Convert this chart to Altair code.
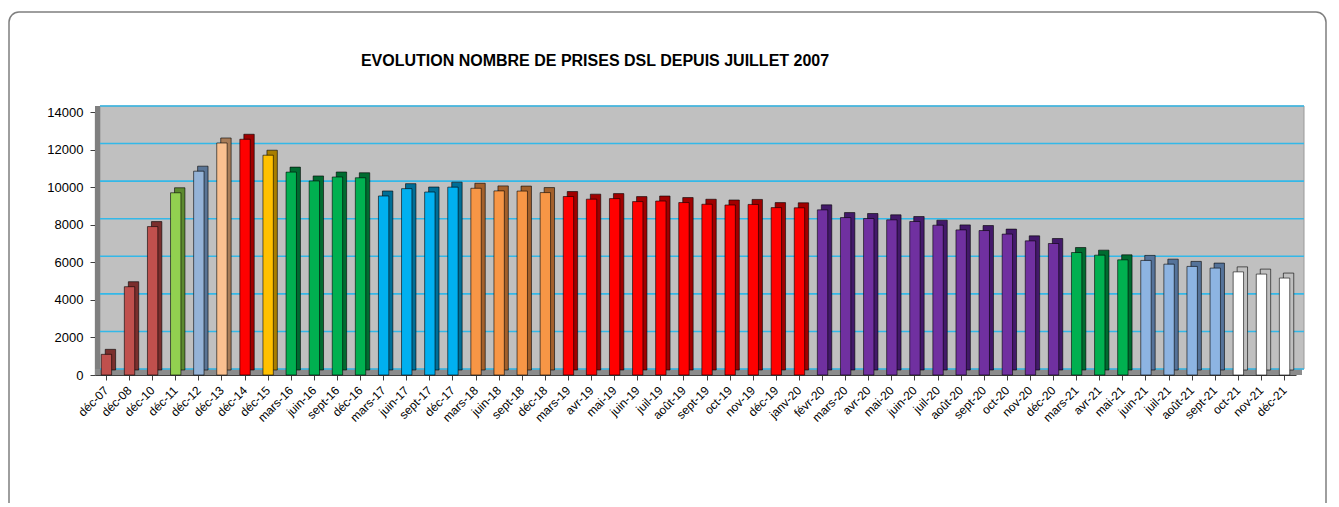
import altair as alt
import pandas as pd

categories = ["déc-07", "déc-08", "déc-10", "déc-11", "déc-12", "déc-13", "déc-14", "déc-15",
              "mars-16", "juin-16", "sept-16", "déc-16", "mars-17", "juin-17", "sept-17", "déc-17",
              "mars-18", "juin-18", "sept-18", "déc-18", "mars-19", "avr-19", "mai-19", "juin-19",
              "juil-19", "août-19", "sept-19", "oct-19", "nov-19", "déc-19", "janv-20", "févr-20",
              "mars-20", "avr-20", "mai-20", "juin-20", "juil-20", "août-20", "sept-20", "oct-20",
              "nov-20", "déc-20", "mars-21", "avr-21", "mai-21", "juin-21", "juil-21", "août-21",
              "sept-21", "oct-21", "nov-21", "déc-21"]

values = [1100, 4700, 7900, 9700, 10850, 12350, 12550, 11700,
          10800, 10330, 10540, 10500, 9530, 9920, 9740, 10000,
          9940, 9800, 9790, 9710, 9500, 9360, 9390, 9230,
          9260, 9180, 9090, 9050, 9080, 8910, 8900, 8790,
          8380, 8330, 8260, 8170, 7975, 7725, 7690, 7500,
          7140, 7000, 6520, 6380, 6130, 6100, 5900, 5780,
          5690, 5490, 5370, 5160]

groups = ["A", "A", "A", "B", "C", "D", "E", "F",
          "G", "G", "G", "G", "H", "H", "H", "H",
          "I", "I", "I", "I", "J", "J", "J", "J",
          "J", "J", "J", "J", "J", "J", "J", "K",
          "K", "K", "K", "K", "K", "K", "K", "K",
          "K", "K", "L", "L", "L", "M", "M", "M",
          "M", "N", "N", "N"]

y_ticks = [0, 2000, 4000, 6000, 8000, 10000, 12000, 14000]

title_text = "EVOLUTION NOMBRE DE PRISES DSL DEPUIS JUILLET 2007"

group_domain = ["A", "B", "C", "D", "E", "F", "G", "H", "I", "J", "K", "L", "M", "N"]
front_colors = ["#C0504D", "#92D050", "#95B3D7", "#FAC090", "#FF0000", "#FFC000", "#00B050",
                "#00B0F0", "#F79646", "#FF0000", "#7030A0", "#00B050", "#8DB4E2", "#FFFFFF"]
side_colors = ["#7A2F2D", "#5C8A2E", "#5A7596", "#A87C58", "#A00000", "#A87E00", "#006B30",
               "#006E96", "#A3602B", "#A00000", "#43196A", "#006B30", "#55739A", "#BFBFBF"]

W, H = 1201, 263

df = pd.DataFrame({"cat": categories, "val": values, "groupe": groups})
grid_df = pd.DataFrame({"v": y_ticks})
one = alt.Data(values=[{"k": 1}])
title_data = alt.Data(values=[{"t": title_text}])

xenc = alt.X("cat:N", sort=categories, title=None,
             scale=alt.Scale(paddingInner=0.55, paddingOuter=0.27),
             axis=alt.Axis(labelAngle=-45, labelAlign="right", labelBaseline="middle",
                           labelFontSize=12, labelFont="Liberation Sans", labelColor="#000000",
                           labelPadding=8, tickSize=5, tickColor="#404040",
                           domainColor="#404040", domainWidth=1.2, labelOverlap=False))
yscale = alt.Scale(domain=[0, 14000], nice=False)
yaxis = alt.Axis(values=y_ticks, format="d", grid=False, labelFontSize=13,
                 labelFont="Liberation Sans", labelColor="#000000", labelPadding=7,
                 tickSize=5, tickColor="#404040", domainColor="#404040", domainWidth=1.2)

border = alt.Chart(one).mark_rect(fill="transparent", stroke="#7F7F7F", strokeWidth=1.5,
                                  cornerRadius=10).encode(
    x=alt.value(-86), x2=alt.value(1231), y=alt.value(-100), y2=alt.value(H + 220))

title = alt.Chart(title_data).mark_text(font="Liberation Sans", fontSize=16, fontWeight="bold",
                                        color="#000000", align="center", baseline="alphabetic").encode(
    text="t:N", x=alt.value(500), y=alt.value(-46))

back_wall = alt.Chart(one).mark_rect(fill="#C0C0C0", stroke="#9A9A9A", strokeWidth=1).encode(
    x=alt.value(5), x2=alt.value(W + 8), y=alt.value(-6), y2=alt.value(H - 6))

left_wall = alt.Chart(one).mark_rect(fill="#7F7F7F").encode(
    x=alt.value(0), x2=alt.value(5), y=alt.value(-6), y2=alt.value(H))

floor = alt.Chart(one).mark_rect(fill="#8C8C8C").encode(
    x=alt.value(0), x2=alt.value(W + 6), y=alt.value(H - 6), y2=alt.value(H))

grid = alt.Chart(grid_df).mark_rule(color="#33B8E8", strokeWidth=1.6, yOffset=-6).encode(
    y=alt.Y("v:Q", scale=yscale, title=None, axis=yaxis),
    x=alt.value(5), x2=alt.value(W + 8))

side = alt.Chart(df).mark_bar(xOffset=4, yOffset=-5, stroke="#000000", strokeWidth=0.6).encode(
    x=xenc,
    y=alt.Y("val:Q", scale=yscale, title=None, axis=yaxis),
    color=alt.Color("groupe:N", scale=alt.Scale(domain=group_domain, range=side_colors), legend=None))

front = alt.Chart(df).mark_bar(stroke="#000000", strokeWidth=0.6).encode(
    x=xenc,
    y=alt.Y("val:Q", scale=yscale, title=None, axis=yaxis),
    color=alt.Color("groupe:N", scale=alt.Scale(domain=group_domain, range=front_colors), legend=None))

chart = alt.layer(border, title, back_wall, left_wall, floor, grid, side, front).resolve_scale(
    color="independent"
).properties(
    width=W, height=H,
    padding={"left": 87, "top": 104, "right": 32, "bottom": 128},
    autosize=alt.AutoSizeParams(type="none"),
    background="#FFFFFF",
).configure_view(stroke="transparent", fill="transparent")

chart.save("out.html", embed_options={"renderer": "svg", "actions": False})
